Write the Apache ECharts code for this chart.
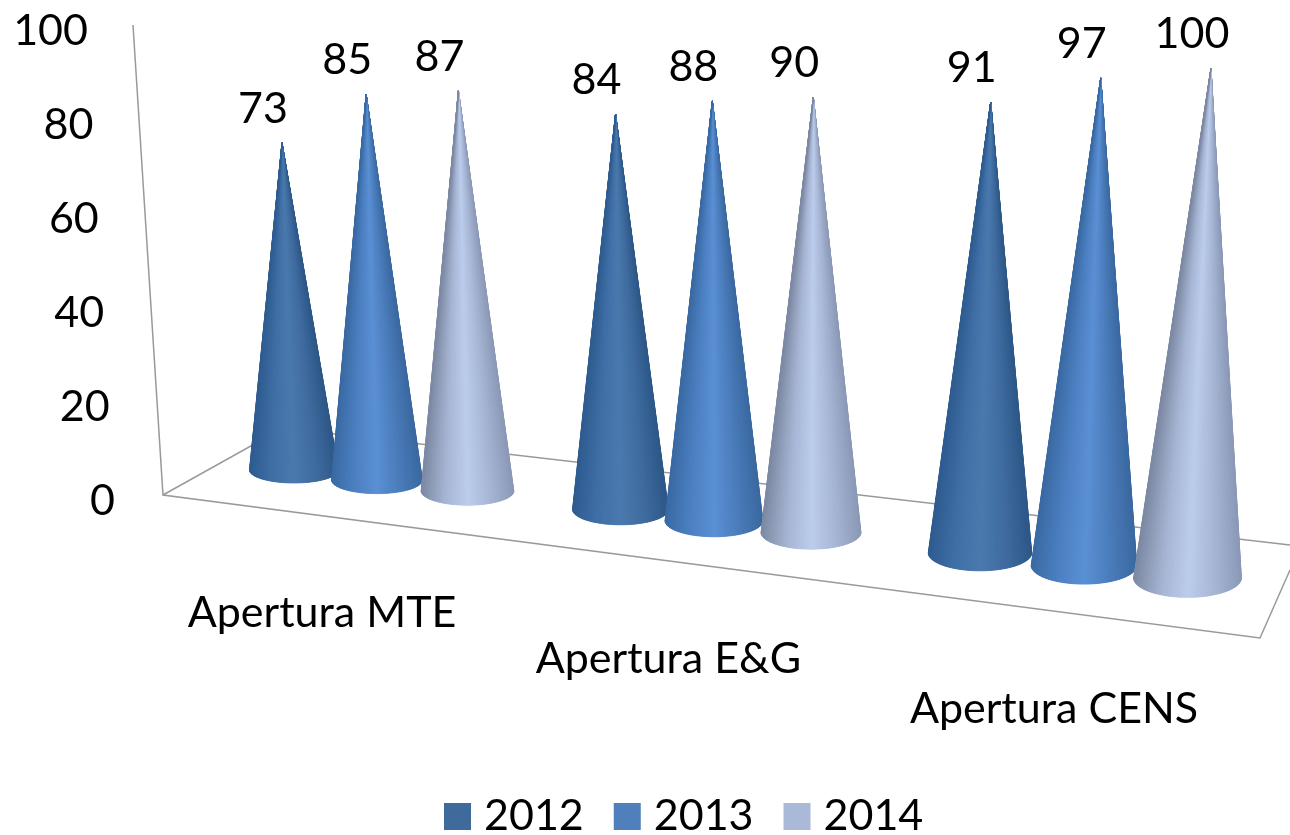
<!DOCTYPE html>
<html><head><meta charset="utf-8">
<style>html,body{margin:0;padding:0;background:#fff}#c{width:1290px;height:835px}</style>
<script src="https://cdn.jsdelivr.net/npm/echarts@6/dist/echarts.min.js"></script>
</head><body><div id="c"></div>
<script>
const categories = ['Apertura MTE', 'Apertura E&G', 'Apertura CENS'];
const years = ['2012', '2013', '2014'];
const values2012 = [73, 84, 91];
const values2013 = [85, 88, 97];
const values2014 = [87, 90, 100];
const yTicks = [0, 20, 40, 60, 80, 100];

const FONT = 'Lato, "Open Sans", sans-serif';
const SIZE = 43;
const legendColors = ['#3f6a9c', '#4f80bb', '#aab9d7'];
// Colour across each cone, left edge to right edge, with even stops.
const ramps = [
  ['#2f5c90', '#3f6fa6', '#4a79ad', '#3f6b9f', '#2c5787'],
  ['#3a6aa3', '#4c80c2', '#5a90d4', '#4a7cba', '#3a689f'],
  ['#7c89a3', '#a5b4d2', '#bccdec', '#a6b5d3', '#8a98b6']
];

// Oblique floor projection: the axis units on x are screen-wide, y is the value axis.
const slot = (cat, ser) => 294 + 310 * cat + 16.5 * cat * cat
  + ser * (83 + 10.5 * cat) + ser * (ser - 1) * (3.75 - 2 * cat);
const pxPerUnit = 4.7;
const floorV = u => (500 - (470 + (u - 294) * 0.1208)) / pxPerUnit;
const depth = u => (4.48 + (u - 294) * 0.00069) / pxPerUnit;
const lean = u => { const t = (u - 294) / 894; return -12 + 10 * t + 25.5 * t * t; };

function coneItem(serIdx) {
  return function (params, api) {
    const cat = api.value(0), val = api.value(1);
    const u = slot(cat, serIdx);
    const v0 = floorV(u);
    const base = api.coord([u, v0]);
    const apex = api.coord([u + lean(u), v0 + val * depth(u)]);
    const rx = 44.5 + (u - 294) * 0.0105;
    const ry = 13 + (u - 294) * 0.0072;
    const N = 64;
    const arc = [];
    for (let i = 0; i <= N; i++) {
      const a = Math.PI * i / N;
      arc.push([base[0] + rx * Math.cos(a), base[1] + ry * Math.sin(a)]);
    }
    const ramp = ramps[serIdx].slice().reverse();
    // Underlay closes the hairline seams between the conical slices.
    const kids = [{ type: 'polygon', silent: true, shape: { points: [apex].concat(arc) },
      style: { fill: echarts.color.lerp(0.5, ramp) } }];
    for (let i = 0; i < N; i++) {
      const mid = Math.PI * (i + 0.5) / N;
      const color = echarts.color.lerp((1 - Math.cos(mid)) / 2, ramp);
      kids.push({ type: 'polygon', silent: true,
        shape: { points: [apex, arc[i], arc[i + 1]] },
        style: { fill: color, stroke: color, lineWidth: 0.8 } });
    }
    kids.push({ type: 'text', style: { x: apex[0] - 19, y: apex[1] - 34, text: String(val),
      align: 'center', verticalAlign: 'middle', font: SIZE + 'px ' + FONT, fill: '#000' } });
    return { type: 'group', children: kids };
  };
}

function frameItem(params, api) {
  const P = (x, y) => api.coord([x, (500 - y) / pxPerUnit]);
  const lineStyle = { stroke: '#999999', lineWidth: 1.5, fill: null };
  const kids = [
    { type: 'polyline', shape: { points: [P(133, 25), P(163, 495), P(1260, 638), P(1290, 570)] }, style: lineStyle },
    { type: 'polyline', shape: { points: [P(163, 495), P(283, 428), P(1290, 545)] }, style: lineStyle }
  ];
  yTicks.forEach(t => {
    const c = api.coord([130, t]);
    kids.push({ type: 'text', style: { x: 115 - t * 0.27, y: c[1] + 1.5, text: String(t),
      align: 'right', verticalAlign: 'middle', font: SIZE + 'px ' + FONT, fill: '#000' } });
  });
  const labelShift = [0, -3, -1];
  categories.forEach((name, i) => {
    const u = slot(i, 1);
    const base = api.coord([u, floorV(u)]);
    kids.push({ type: 'text', style: { x: base[0] - 55 + (u - 377) * 0.0368 + labelShift[i], y: base[1] + 133 + (u - 377) * 0.0155,
      text: name, align: 'center', verticalAlign: 'middle', font: SIZE + 'px ' + FONT, fill: '#000' } });
  });
  return { type: 'group', children: kids };
}

const seriesValues = [values2012, values2013, values2014];
const chart = echarts.init(document.getElementById('c'), null, { renderer: 'canvas' });
chart.setOption({
  animation: false,
  backgroundColor: '#fff',
  grid: { left: 130, width: 1160, top: 30, height: 470 },
  xAxis: { type: 'value', min: 130, max: 1290, show: false },
  yAxis: { type: 'value', min: 0, max: 100, interval: 20, show: false },
  legend: {
    data: years, left: 439, top: 790, icon: 'rect', itemWidth: 27, itemHeight: 27, itemGap: 30,
    textStyle: { fontFamily: FONT, fontSize: SIZE, color: '#000', padding: [0, 0, 0, 8] }
  },
  series: [
    { type: 'custom', name: 'frame', silent: true, renderItem: frameItem, data: [[130, 0]], clip: false, z: 1 }
  ].concat(years.map((y, i) => ({
    type: 'custom', name: y, renderItem: coneItem(i), clip: false, z: 2 + i,
    itemStyle: { color: legendColors[i] },
    data: seriesValues[i].map((v, c) => [c, v])
  })))
});
</script></body></html>
